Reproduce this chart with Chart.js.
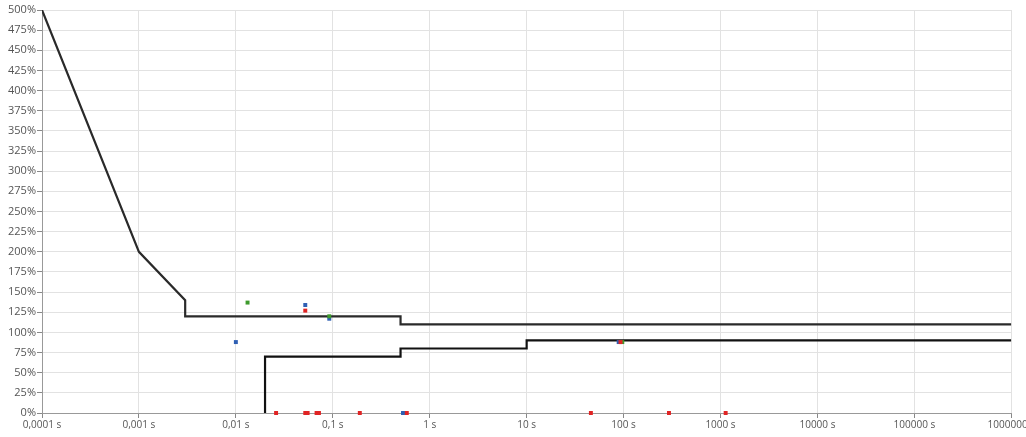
<!DOCTYPE html>
<html lang="en">
  <head>
    <meta charset="utf-8">
    <title>Curve</title>
    <script src="https://cdn.jsdelivr.net/npm/chart.js@4.4.0/dist/chart.umd.min.js"></script>
    <style>
      body { margin: 0; background: #fff; overflow: hidden; }
      #wrap { position: relative; width: 1036px; height: 437px; }
    </style>
  </head>
  <body>
    <div id="wrap">
      <canvas id="curve"></canvas>
    </div>
  <script>
  // time axis decades (s)
  var decades = [0.0001, 0.001, 0.01, 0.1, 1, 10, 100, 1000, 10000, 100000, 1000000];

  // upper envelope
  var upperT = [0.0001, 0.001, 0.003, 0.003, 0.5, 0.5, 1000000];
  var upperV = [500, 200, 140, 120, 120, 110, 110];

  // lower envelope
  var lowerT = [0.02, 0.02, 0.5, 0.5, 10, 10, 1000000];
  var lowerV = [0, 70, 70, 80, 80, 90, 90];

  // measured points
  var redT = [0.052, 93, 0.026, 0.052, 0.055, 0.068, 0.072, 0.19, 0.58, 46, 294, 1130];
  var redV = [127, 88, 0, 0, 0, 0, 0, 0, 0, 0, 0, 0];
  var blueT = [0.01, 0.052, 0.092, 89, 0.53];
  var blueV = [88, 134, 117, 88, 0];
  var greenT = [0.0132, 0.092, 97];
  var greenV = [137, 120, 88];

  function pts(t, v){
    var out = [];
    for(var i = 0; i < t.length; ++i){
      out.push({x: t[i], y: v[i]});
    }
    return out;
  }

  function dots(t, v, color){
    return {
      data: pts(t, v),
      showLine: false,
      pointStyle: 'rect',
      pointRadius: 2.8,
      backgroundColor: color,
      borderColor: color,
      borderWidth: 0,
      clip: false
    };
  }

  function line(t, v, color){
    return {
      data: pts(t, v),
      showLine: true,
      borderColor: color,
      borderWidth: 2.2,
      pointRadius: 0,
      fill: false,
      tension: 0
    };
  }

  // first dataset is drawn on top
  var ctx = document.getElementById('curve');
  var chart = new Chart(ctx, {
    type: 'scatter',
    data: {
      datasets: [
        dots(redT, redV, '#e02424'),
        dots(greenT, greenV, '#3d9a2c'),
        dots(blueT, blueV, '#2f5fb3'),
        line(upperT, upperV, '#2a2a2a'),
        line(lowerT, lowerV, '#111111')
      ]
    },
    options: {
      responsive: true,
      maintainAspectRatio: false,
      animation: false,
      layout: { padding: { left: 1, top: 10, right: 0, bottom: 5 } },
      plugins: {
        legend: { display: false },
        tooltip: { enabled: false }
      },
      scales: {
        x: {
          type: 'logarithmic',
          min: 0.0001,
          max: 1000000,
          afterBuildTicks: function(axis){
            axis.ticks = decades.map(function(d){ return {value: d}; });
          },
          ticks: {
            autoSkip: false,
            maxRotation: 0,
            color: '#555',
            font: { family: 'Open Sans', size: 10 },
            padding: 1,
            callback: function(value){
              return String(value).replace('.', ',') + ' s';
            }
          },
          grid: { color: '#e2e2e2', tickColor: '#888', tickLength: 5 },
          border: { color: '#999' }
        },
        y: {
          min: 0,
          max: 500,
          afterFit: function(axis){ axis.width = 41; },
          ticks: {
            stepSize: 25,
            color: '#555',
            font: { family: 'Open Sans', size: 11 },
            padding: 1,
            callback: function(value){ return value + '%'; }
          },
          grid: { color: '#e2e2e2', tickColor: '#888', tickLength: 5 },
          border: { color: '#999' }
        }
      }
    }
  });
  </script>
  </body>
</html>
